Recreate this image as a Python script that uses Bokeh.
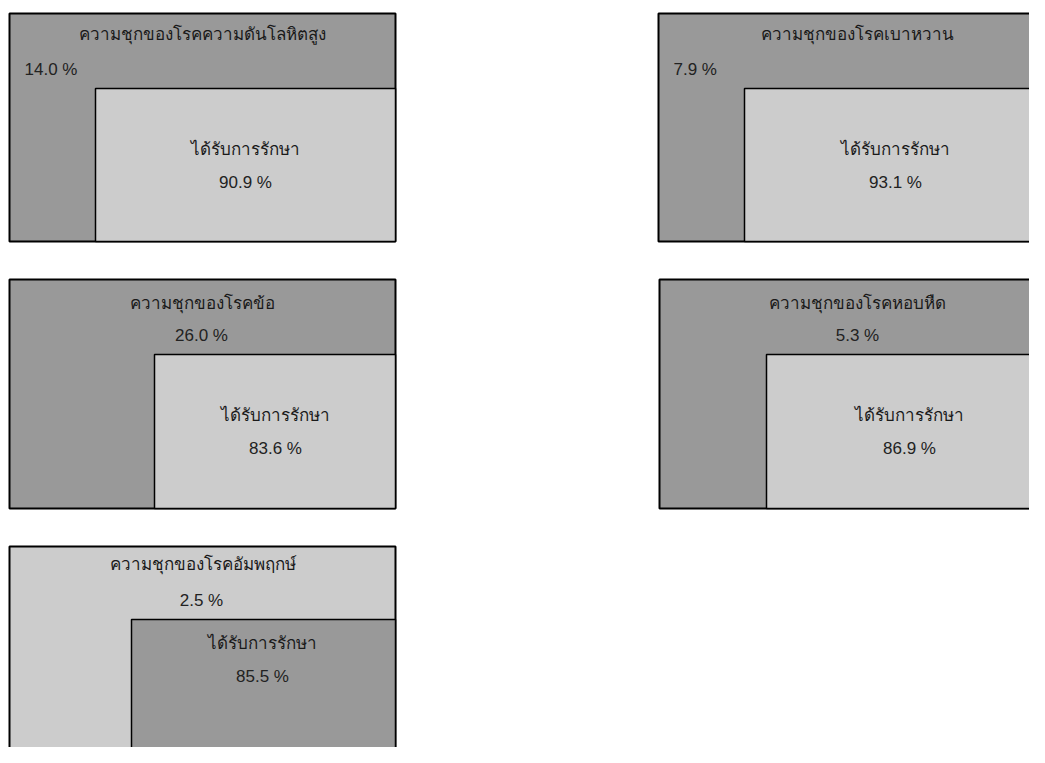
from bokeh.plotting import figure
from bokeh.models import ColumnDataSource, Range1d
from bokeh.embed import file_html
from bokeh.resources import INLINE
from bokeh.core.properties import value

# ---- data ----
title_prefix = "ความชุกของโรค"
diseases = ["ความดันโลหิตสูง", "เบาหวาน", "ข้อ", "หอบหืด", "อัมพฤกษ์"]
prevalence = [14.0, 7.9, 26.0, 5.3, 2.5]
treated_label = "ได้รับการรักษา"
treated = [90.9, 93.1, 83.6, 86.9, 85.5]

# ---- layout (pixel coordinates) ----
outer_left = [9, 658, 9, 659, 9]
outer_right = [395, 1054, 395, 1055, 395]
outer_top = [13, 13, 279, 279, 546]
outer_bottom = [241, 241, 508, 508, 776]
inner_left = [95, 744, 154, 766, 131]
inner_top = [88, 88, 354, 354, 619]
outer_fill = ["#999999", "#999999", "#999999", "#999999", "#cccccc"]
inner_fill = ["#cccccc", "#cccccc", "#cccccc", "#cccccc", "#999999"]

title_x = [202, 857, 202, 857, 202]
title_y = [33, 33, 302, 302, 563]
prev_x = [24, 673, 201, 857, 201]
prev_y = [69, 69, 335, 335, 600]
prev_align = ["left", "left", "center", "center", "center"]
in_x = [245, 895, 275, 909, 262]
lab_y = [148, 148, 414, 414, 642]
pct_y = [182, 182, 448, 448, 676]

W, H = 1029, 747
p = figure(width=W, height=H, x_range=Range1d(0, W), y_range=Range1d(H, 0),
           output_backend="svg", toolbar_location=None, min_border=0)
p.axis.visible = False
p.grid.visible = False
p.outline_line_color = None
p.background_fill_color = "white"
p.border_fill_color = "white"

outer = ColumnDataSource(dict(left=outer_left, right=outer_right, top=outer_top,
                              bottom=outer_bottom, fill=outer_fill))
p.quad(left="left", right="right", top="top", bottom="bottom", fill_color="fill",
       line_color="black", line_width=2, source=outer)

inner = ColumnDataSource(dict(left=inner_left, right=outer_right, top=inner_top,
                              bottom=outer_bottom, fill=inner_fill))
p.quad(left="left", right="right", top="top", bottom="bottom", fill_color="fill",
       line_color="black", line_width=1.5, source=inner)

titles = [title_prefix + d for d in diseases]
p.text(x=title_x, y=title_y, text=titles, text_align="center", text_baseline="middle",
       text_font=value("Noto Sans"), text_font_size="17px", text_color="#1a1a1a")

prev_src = ColumnDataSource(dict(x=prev_x, y=prev_y, t=["%.1f %%" % v for v in prevalence],
                                 a=prev_align))
p.text(x="x", y="y", text="t", text_align="a", text_baseline="middle", source=prev_src,
       text_font=value("Liberation Sans"), text_font_size="17px", text_color="#222222")

p.text(x=in_x, y=lab_y, text=[treated_label] * len(treated), text_align="center",
       text_baseline="middle", text_font=value("Noto Sans"), text_font_size="17px",
       text_color="#1a1a1a")
p.text(x=in_x, y=pct_y, text=["%.1f %%" % v for v in treated], text_align="center",
       text_baseline="middle", text_font=value("Liberation Sans"), text_font_size="17px",
       text_color="#222222")

open("out.html", "w").write(file_html(p, INLINE))
